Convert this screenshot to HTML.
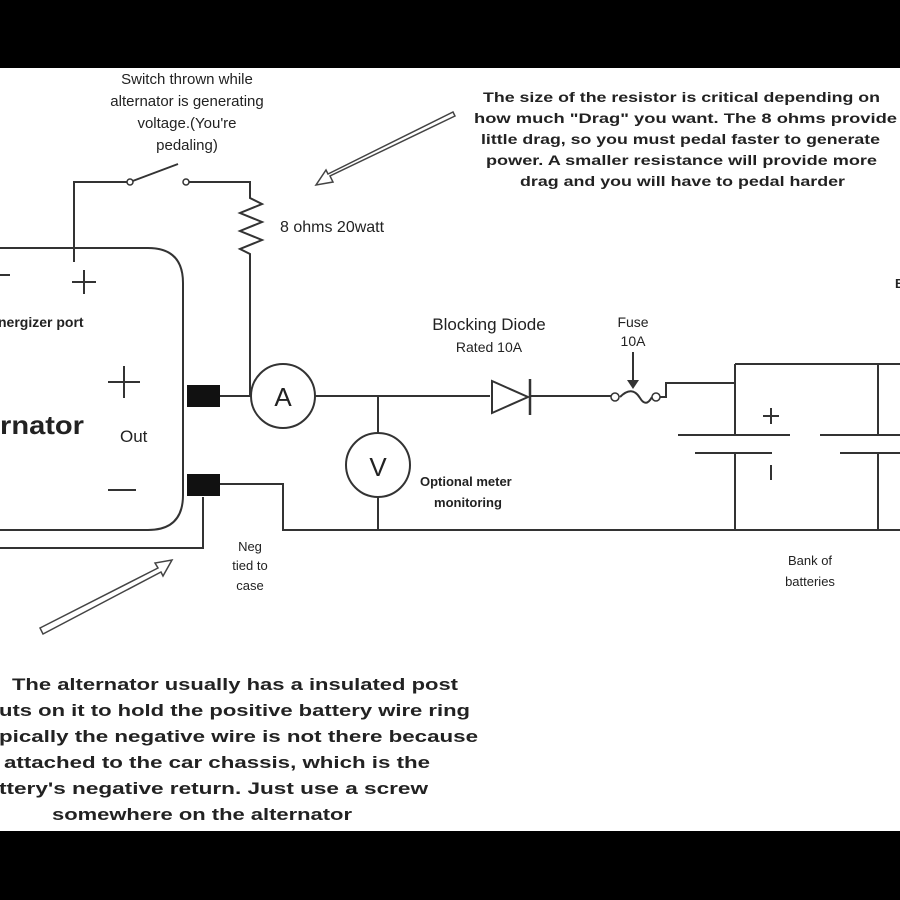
<!DOCTYPE html>
<html><head><style>
html,body{margin:0;padding:0;background:#000;}
svg{display:block;}
text{font-family:"Liberation Sans",sans-serif;fill:#222;}
.b{font-weight:bold;}
</style></head><body>
<svg width="900" height="900" viewBox="0 0 900 900" xmlns="http://www.w3.org/2000/svg">
<rect x="0" y="0" width="900" height="900" fill="#000"/>
<rect x="0" y="68" width="900" height="763" fill="#fff"/>
<g stroke="#333" stroke-width="2" fill="none">
 <path d="M-5 248 H148 Q183 248 183 283 V495 Q183 530 148 530 H-5"/>
 <path d="M-5 548 H203 V497"/>
 <path d="M74 262 V182 H130"/>
 <line x1="130" y1="182" x2="178" y2="164"/>
 <path d="M186 182 H250 V198 L262 204 L240 213 L262 222 L240 231 L262 240 L240 249 L250 254 V396"/>
 <line x1="220" y1="396" x2="251" y2="396"/>
 <circle cx="283" cy="396" r="32"/>
 <line x1="315" y1="396" x2="490" y2="396"/>
 <line x1="530" y1="396" x2="612" y2="396"/>
 <path d="M620 397 Q632 385 640 398 Q646 408 652 397"/>
 <path d="M660 397 H666 V383 H735"/>
 <line x1="633" y1="352" x2="633" y2="383"/>
 <line x1="378" y1="396" x2="378" y2="433"/>
 <circle cx="378" cy="465" r="32"/>
 <line x1="378" y1="497" x2="378" y2="530"/>
 <path d="M220 484 H283 V530 H900"/>
 <line x1="735" y1="364" x2="900" y2="364"/>
 <line x1="735" y1="364" x2="735" y2="435"/>
 <line x1="735" y1="453" x2="735" y2="530"/>
 <line x1="878" y1="364" x2="878" y2="435"/>
 <line x1="878" y1="453" x2="878" y2="530"/>
 <line x1="678" y1="435" x2="790" y2="435"/>
 <line x1="695" y1="453" x2="772" y2="453"/>
 <line x1="820" y1="435" x2="900" y2="435"/>
 <line x1="840" y1="453" x2="900" y2="453"/>
 <path d="M0 275 H10 M72 282 H96 M84 270 V294 M108 382 H140 M124 366 V398 M108 490 H136"/>
 <path d="M763 416 H779 M771 408 V424 M771 465 V480"/>
</g>
<polygon points="492,381 492,413 528,397" fill="none" stroke="#333" stroke-width="2"/>
<line x1="530" y1="379" x2="530" y2="415" stroke="#333" stroke-width="2.5"/>
<circle cx="615" cy="397" r="4" fill="#fff" stroke="#333" stroke-width="1.5"/>
<circle cx="656" cy="397" r="4" fill="#fff" stroke="#333" stroke-width="1.5"/>
<polygon points="627,380 639,380 633,389" fill="#333"/>
<circle cx="130" cy="182" r="3" fill="#fff" stroke="#333" stroke-width="1.5"/>
<circle cx="186" cy="182" r="3" fill="#fff" stroke="#333" stroke-width="1.5"/>
<rect x="187" y="385" width="33" height="22" fill="#111"/>
<rect x="187" y="474" width="33" height="22" fill="#111"/>
<polygon points="455,116 330,176 333,182 316,185 326,170 328,174 453,112" fill="#fff" stroke="#444" stroke-width="1.5"/>
<polygon points="40,628 158,568 155,563 172,560 163,576 161,572 43,634" fill="#fff" stroke="#444" stroke-width="1.5"/>
<g font-size="15" text-anchor="middle">
 <text x="187" y="84">Switch thrown while</text>
 <text x="187" y="106">alternator is generating</text>
 <text x="187" y="128">voltage.(You're</text>
 <text x="187" y="150">pedaling)</text>
</g>
<text x="280" y="232" font-size="16">8 ohms 20watt</text>
<text x="-2" y="327" font-size="14" class="b">nergizer port</text>
<text x="0" y="434" font-size="26" class="b" textLength="84" lengthAdjust="spacingAndGlyphs">rnator</text>
<text x="120" y="442" font-size="17">Out</text>
<text x="283" y="406" font-size="26" text-anchor="middle">A</text>
<text x="378" y="476" font-size="26" text-anchor="middle">V</text>
<text x="489" y="330" font-size="17" text-anchor="middle">Blocking Diode</text>
<text x="489" y="352" font-size="14" text-anchor="middle">Rated 10A</text>
<text x="633" y="327" font-size="14" text-anchor="middle">Fuse</text>
<text x="633" y="346" font-size="14" text-anchor="middle">10A</text>
<text x="420" y="486" font-size="13" class="b">Optional meter</text>
<text x="468" y="507" font-size="13" class="b" text-anchor="middle">monitoring</text>
<g font-size="13" text-anchor="middle">
 <text x="250" y="551">Neg</text>
 <text x="250" y="570">tied to</text>
 <text x="250" y="590">case</text>
 <text x="810" y="565">Bank of</text>
 <text x="810" y="586">batteries</text>
</g>
<text x="895" y="288" font-size="13" class="b">B</text>
<g font-size="14" class="b">
 <text x="483" y="102" textLength="397" lengthAdjust="spacingAndGlyphs">The size of the resistor is critical depending on</text>
 <text x="474" y="123" textLength="423" lengthAdjust="spacingAndGlyphs">how much "Drag" you want.  The 8 ohms provide</text>
 <text x="481" y="144" textLength="399" lengthAdjust="spacingAndGlyphs">little drag, so you must pedal faster to generate</text>
 <text x="486" y="165" textLength="391" lengthAdjust="spacingAndGlyphs">power.  A smaller resistance will provide more</text>
 <text x="520" y="186" textLength="325" lengthAdjust="spacingAndGlyphs">drag and you will have to pedal harder</text>
</g>
<g font-size="17" class="b">
 <text x="12" y="690" textLength="446" lengthAdjust="spacingAndGlyphs">The alternator usually has a insulated post</text>
 <text x="-1" y="716" textLength="471" lengthAdjust="spacingAndGlyphs">uts on it to hold the positive battery wire ring</text>
 <text x="-1" y="742" textLength="479" lengthAdjust="spacingAndGlyphs">pically the negative wire is not there because</text>
 <text x="4" y="768" textLength="426" lengthAdjust="spacingAndGlyphs">attached to the car chassis, which is the</text>
 <text x="-1" y="794" textLength="429" lengthAdjust="spacingAndGlyphs">ttery's negative return.  Just use a screw</text>
 <text x="52" y="820" textLength="300" lengthAdjust="spacingAndGlyphs">somewhere on the alternator</text>
</g>
</svg>
</body></html>
